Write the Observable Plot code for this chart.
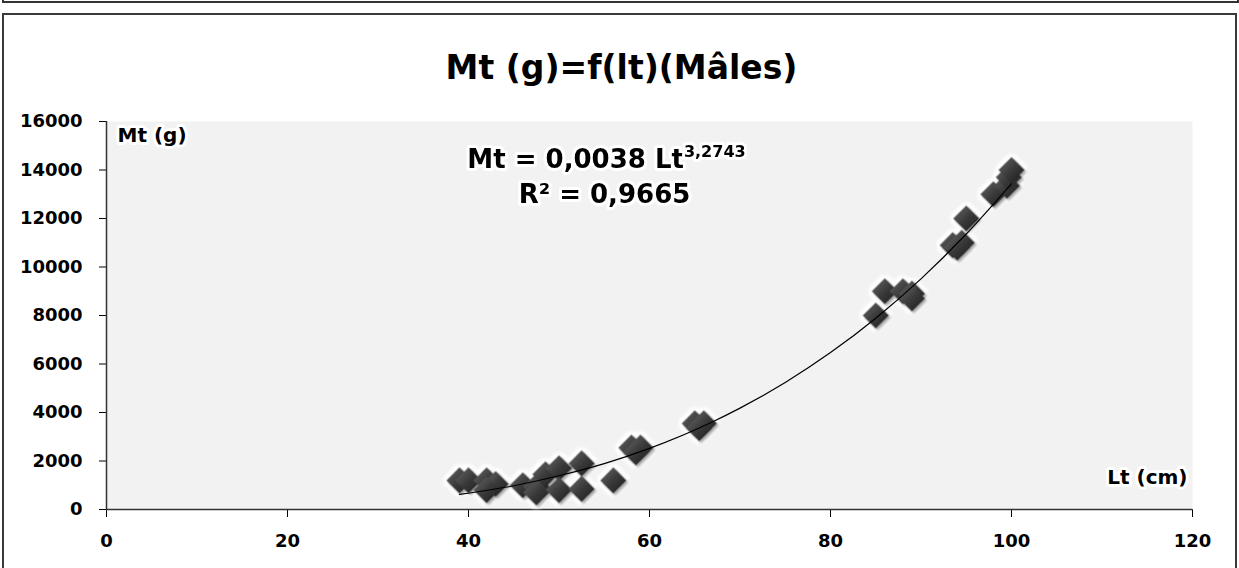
<!DOCTYPE html>
<html>
<head>
<meta charset="utf-8">
<script src="https://cdn.jsdelivr.net/npm/d3@7"></script>
<script src="https://cdn.jsdelivr.net/npm/@observablehq/plot@0.6"></script>
<style>
  html, body { margin: 0; padding: 0; background: #fff; }
  body { width: 1239px; height: 568px; overflow: hidden; position: relative; font-family: "DejaVu Sans", sans-serif; }
  #topbox { position: absolute; left: 2px; top: -10px; width: 1233px; height: 11px; border: 2px solid #333; border-top: none; }
  #chartbox { position: absolute; left: 2px; top: 13px; width: 1231px; height: 600px; border: 2px solid #3a3a3a; }
  #title { position: absolute; left: 0; top: 51px; width: 1239px; text-align: center; font-size: 33px; line-height: 33px; font-weight: bold; color: #000; padding-left: 2px; }
  #plot { position: absolute; left: 0; top: 100px; }
</style>
</head>
<body>
<div id="topbox"></div>
<div id="chartbox"></div>
<div id="title"></div>
<div id="plot"></div>
<script>
// ---- Data ----
const titleText = "Mt (g)=f(lt)(Mâles)";
const yAxisLabel = "Mt (g)";
const xAxisLabel = "Lt (cm)";
const equationMain = "Mt = 0,0038 Lt";
const equationExp = "3,2743";
const r2Text = "R² = 0,9665";

const xTicks = [0, 20, 40, 60, 80, 100, 120];
const yTicks = [0, 2000, 4000, 6000, 8000, 10000, 12000, 14000, 16000];

// observed males: total length (cm) and total mass (g)
const lengths = [39, 40, 42, 43, 42, 46, 47.5, 47.5, 48.5, 50, 50, 52.5, 52.5, 56, 58, 59, 58.5, 65, 66, 65.5, 85, 86, 88, 89, 89, 93.5, 94.5, 94, 95, 98, 99.5, 99.7, 100];
const masses  = [1200, 1200, 1200, 1050, 800, 1000, 950, 700, 1450, 1700, 800, 1900, 850, 1200, 2550, 2550, 2350, 3550, 3550, 3350, 8000, 9000, 9000, 8900, 8700, 10900, 11000, 10800, 12000, 13000, 13350, 13700, 14000];

// power trend line as drawn in the picture
const trendLengths = [39, 45, 50, 55, 60, 65, 70, 75, 80, 85, 90, 95, 100];
const trendMasses  = [620, 980, 1390, 1890, 2520, 3280, 4180, 5240, 6470, 7890, 9510, 11360, 13440];

const points = lengths.map((lt, i) => ({lt, mt: masses[i]}));
const trend = trendLengths.map((lt, i) => ({lt, mt: trendMasses[i]}));

document.getElementById("title").textContent = titleText;

const chart = Plot.plot({
  width: 1239,
  height: 468,
  marginLeft: 106,
  marginRight: 47,
  marginTop: 21,
  marginBottom: 59,
  style: {fontFamily: "'DejaVu Sans', sans-serif", fontSize: "18px", fontWeight: "bold", color: "#000", background: "transparent", overflow: "visible"},
  x: {domain: [0, 120], ticks: xTicks, tickSize: 8, tickPadding: 17, tickFormat: "d", label: null},
  y: {domain: [0, 16000], ticks: yTicks, tickSize: 7, tickPadding: 17, tickFormat: "d", label: null},
  marks: [
    Plot.frame({fill: "#f2f2f2", stroke: "none"}),
    Plot.ruleX([0], {stroke: "#333", strokeWidth: 1.5}),
    Plot.ruleY([0], {stroke: "#333", strokeWidth: 1.5}),
    Plot.dot(points, {x: "lt", y: "mt", symbol: "diamond2", r: 12, fill: "#333", stroke: "none"}),
    Plot.line(trend, {x: "lt", y: "mt", stroke: "#000", strokeWidth: 1.2, curve: "monotone-x"}),
    Plot.text([yAxisLabel], {frameAnchor: "top-left", dx: 11, dy: 6, lineAnchor: "top", textAnchor: "start", fontSize: 20, fontWeight: "bold", fill: "#000", stroke: "#fff", strokeWidth: 6}),
    Plot.text([xAxisLabel], {frameAnchor: "bottom-right", dx: -5, dy: -26, lineAnchor: "bottom", textAnchor: "end", fontSize: 20, fontWeight: "bold", fill: "#000", stroke: "#fff", strokeWidth: 6}),
    Plot.text([equationMain], {frameAnchor: "top", dx: -43, dy: 46, lineAnchor: "bottom", textAnchor: "middle", fontSize: 26, fontWeight: "bold", fill: "#000", stroke: "#fff", strokeWidth: 6}),
    Plot.text([r2Text], {frameAnchor: "top", dx: -45, dy: 81, lineAnchor: "bottom", textAnchor: "middle", fontSize: 26, fontWeight: "bold", fill: "#000", stroke: "#fff", strokeWidth: 6})
  ]
});

document.getElementById("plot").appendChild(chart);

const svg = d3.select(chart);
svg.insert("defs", ":first-child").html(`
  <linearGradient id="dg" x1="0" y1="0" x2="1" y2="1">
    <stop offset="0" stop-color="#6a6a6a"/>
    <stop offset="0.5" stop-color="#3a3a3a"/>
    <stop offset="1" stop-color="#1a1a1a"/>
  </linearGradient>
  <filter id="glow" x="-50%" y="-50%" width="200%" height="200%">
    <feMorphology in="SourceAlpha" operator="dilate" radius="3" result="d"/>
    <feGaussianBlur in="d" stdDeviation="1.5" result="b"/>
    <feFlood flood-color="#ffffff"/>
    <feComposite in2="b" operator="in" result="w"/>
    <feOffset in="SourceAlpha" dx="1.5" dy="1.5" result="o"/>
    <feGaussianBlur in="o" stdDeviation="1.2" result="ob"/>
    <feFlood flood-color="#000" flood-opacity="0.6"/>
    <feComposite in2="ob" operator="in" result="s"/>
    <feMerge><feMergeNode in="w"/><feMergeNode in="s"/><feMergeNode in="SourceGraphic"/></feMerge>
  </filter>`);
const dotG = svg.select('g[aria-label="dot"]');
dotG.attr("filter", "url(#glow)");
dotG.selectAll("path").attr("fill", "url(#dg)");

// superscript exponent on the equation
svg.selectAll('g[aria-label="text"] text').each(function() {
  if (this.textContent === equationMain) {
    d3.select(this).append("tspan").attr("dy", "-11").attr("font-size", 16).text(equationExp);
  }
});
</script>
</body>
</html>
